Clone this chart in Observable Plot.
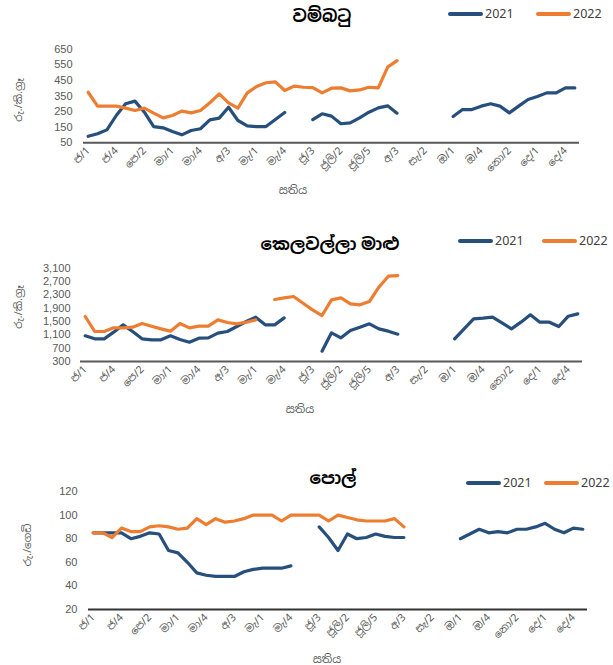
<!DOCTYPE html>
<html><head><meta charset="utf-8">
<script src="https://cdn.jsdelivr.net/npm/d3@7"></script>
<script src="https://cdn.jsdelivr.net/npm/@observablehq/plot@0.6"></script>
<style>
body{margin:0;background:#fff;font-family:"Noto Sans","Noto Sans Sinhala",sans-serif;}
#wrap{position:relative;width:613px;height:665px;overflow:hidden;background:#fff;}
.abs{position:absolute;white-space:nowrap;line-height:1;}
.title{font-weight:bold;font-size:17px;color:#000;transform:translate(-50%,-50%);}
.leg{font-size:12.5px;color:#404040;transform:translateY(-50%);}
.sw{position:absolute;height:4px;border-radius:2px;transform:translateY(-50%);}
.ylab{font-size:10.5px;color:#595959;transform:translate(-50%,-50%) rotate(-90deg);}
.xlab{font-size:11px;color:#595959;transform:translate(-50%,-50%);}
svg{position:absolute;left:0;}
.yt text{font-family:"Liberation Sans Narrow","Liberation Sans",sans-serif;}
</style>
</head><body><div id="wrap"></div>
<script>
// 53 weeks of the year (month abbreviation / week number)
const weeks = ["ජ/1","ජ/2","ජ/3","ජ/4","ජ/5","පෙ/1","පෙ/2","පෙ/3","පෙ/4","මා/1","මා/2","මා/3","මා/4",
"අ/1","අ/2","අ/3","අ/4","අ/5","මැ/1","මැ/2","මැ/3","මැ/4","ජූ/1","ජූ/2","ජූ/3","ජූ/4",
"ජූලි/1","ජූලි/2","ජූලි/3","ජූලි/4","ජූලි/5","අ/1","අ/2","අ/3","අ/4","සැ/1","සැ/2","සැ/3","සැ/4",
"ඔ/1","ඔ/2","ඔ/3","ඔ/4","ඔ/5","නො/1","නො/2","නො/3","නො/4","දෙ/1","දෙ/2","දෙ/3","දෙ/4","දෙ/5"];
const seriesNames = ["2021","2022"];

// වම්බටු (Rs/kg)
const brinjal2021 = [92,108,133,225,300,317,246,154,146,122,101,129,140,197,208,278,193,159,154,154,199,244,null,null,
199,236,221,172,178,210,246,274,287,240,null,null,null,null,null,219,263,263,285,300,285,242,285,328,347,370,370,402,402];
const brinjal2022 = [374,285,285,285,272,257,272,240,210,225,253,242,257,306,364,306,272,370,411,435,441,385,413,406,
404,370,400,402,383,389,406,402,535,577,null,null,null,null,null,null,null,null,null,null,null,null,null,null,null,null,null,null,null];
const brinjalTicks = [50,150,250,350,450,550,650];

// කෙලවල්ලා මාළු (Rs/kg)
const fish2021 = [1070,980,980,1180,1400,1200,980,950,950,1070,960,880,1000,1010,1150,1200,1350,1500,1630,1400,1400,1610,null,null,
null,610,1160,1010,1230,1330,1430,1280,1210,1120,null,null,null,null,null,980,1280,1580,1600,1630,1460,1280,1480,1700,1480,1480,1350,1660,1730];
const fish2022 = [1650,1200,1200,1310,1310,1330,1440,1360,1280,1210,1440,1310,1360,1360,1550,1470,1430,1480,1550,null,2160,2210,2250,2050,
1850,1680,2150,2210,2030,2000,2100,2530,2860,2880,null,null,null,null,null,null,null,null,null,null,null,null,null,null,null,null,null,null,null];
const fishTicks = [300,700,1100,1500,1900,2300,2700,3100];

// පොල් (Rs/nut)
const coconut2021 = [85,85,85,85,80,82,85,84,70,68,60,51,49,48,48,48,52,54,55,55,55,57,null,null,
90,81,70,84,80,81,84,82,81,81,null,null,null,null,null,80,84,88,85,86,85,88,88,90,93,88,85,89,88];
const coconut2022 = [85,85,81,89,86,86,90,91,90,88,89,97,92,97,94,95,97,100,100,100,95,100,100,100,
100,95,100,98,96,95,95,95,97,90,null,null,null,null,null,null,null,null,null,null,null,null,null,null,null,null,null,null,null];
const coconutTicks = [20,40,60,80,100,120];

const blue = "#264f7c", orange = "#ED7D31";

const panels = [
  {title:"වම්බටු", unit:"රු./කි.ග්\u200Dරෑ", s21:brinjal2021, s22:brinjal2022, ticks:brinjalTicks, fmt:d3.format("d"),
   top:0, h:200, mt:48.7, mb:57.7, ml:83, mr:34, pad:11, axis:"#595959",
   tx:322, ty:15, l1:448, l2:536, ly:14, yx:18, yy:100, xx:293, xy:189},
  {title:"කෙලවල්ලා මාළු", unit:"රු./කි.ග්\u200Dරෑ", s21:fish2021, s22:fish2022, ticks:fishTicks, fmt:d3.format(","),
   top:220, h:200, mt:47.7, mb:59, ml:80, mr:31, pad:10, axis:"#595959",
   tx:330, ty:243, l1:458, l2:542, ly:241, yx:18, yy:307, xx:300, xy:408},
  {title:"පොල්", unit:"රු./ගෙඩි", s21:coconut2021, s22:coconut2022, ticks:coconutTicks, fmt:d3.format("d"),
   top:440, h:225, mt:51, mb:56, ml:88, mr:26, pad:11, axis:"#333333",
   tx:333, ty:477, l1:466, l2:544, ly:483, yx:27, yy:545, xx:327, xy:658}
];

const wrap = document.getElementById("wrap");
function addDiv(cls, text, left, top, extra) {
  const d = document.createElement("div");
  d.className = "abs " + cls;
  if (text != null) d.textContent = text;
  d.style.left = left + "px"; d.style.top = top + "px";
  if (extra) Object.assign(d.style, extra);
  wrap.appendChild(d);
  return d;
}

for (const p of panels) {
  const t21 = weeks.map((w, i) => ({i, v: p.s21[i] == null ? NaN : p.s21[i]}));
  const t22 = weeks.map((w, i) => ({i, v: p.s22[i] == null ? NaN : p.s22[i]}));
  const ymin = p.ticks[0], ymax = p.ticks[p.ticks.length - 1];
  const chart = Plot.plot({
    width: 613, height: p.h,
    marginLeft: p.ml, marginRight: p.mr, marginTop: p.mt, marginBottom: p.mb,
    style: {color: "#595959", fontFamily: "'Noto Sans','Noto Sans Sinhala',sans-serif", background: "transparent", overflow: "visible"},
    x: {type: "linear", domain: [-0.5, weeks.length - 0.5]},
    y: {domain: [ymin, ymax]},
    marks: [
      Plot.axisY({ticks: p.ticks, tickFormat: p.fmt, tickSize: 0, tickPadding: p.pad, fontSize: 11, label: null, className: "yt"}),
      Plot.axisX({ticks: d3.range(0, weeks.length, 3), tickFormat: i => weeks[i], tickRotate: -45,
                  tickSize: 0, tickPadding: 6, fontSize: 10.5, label: null}),
      Plot.ruleY([ymin], {stroke: p.axis, strokeWidth: 2}),
      Plot.line(t21, {x: "i", y: "v", stroke: blue, strokeWidth: 3.2, strokeLinejoin: "round", strokeLinecap: "round"}),
      Plot.line(t22, {x: "i", y: "v", stroke: orange, strokeWidth: 3.2, strokeLinejoin: "round", strokeLinecap: "round"})
    ]
  });
  chart.style.top = p.top + "px";
  wrap.appendChild(chart);

  addDiv("title", p.title, p.tx, p.ty);
  addDiv("sw", null, p.l1, p.ly, {width: "35px", background: blue});
  addDiv("leg", seriesNames[0], p.l1 + 37, p.ly);
  addDiv("sw", null, p.l2, p.ly, {width: "35px", background: orange});
  addDiv("leg", seriesNames[1], p.l2 + 37, p.ly);
  addDiv("ylab", p.unit, p.yx, p.yy);
  addDiv("xlab", "සතිය", p.xx, p.xy);
}
</script>
</body></html>
